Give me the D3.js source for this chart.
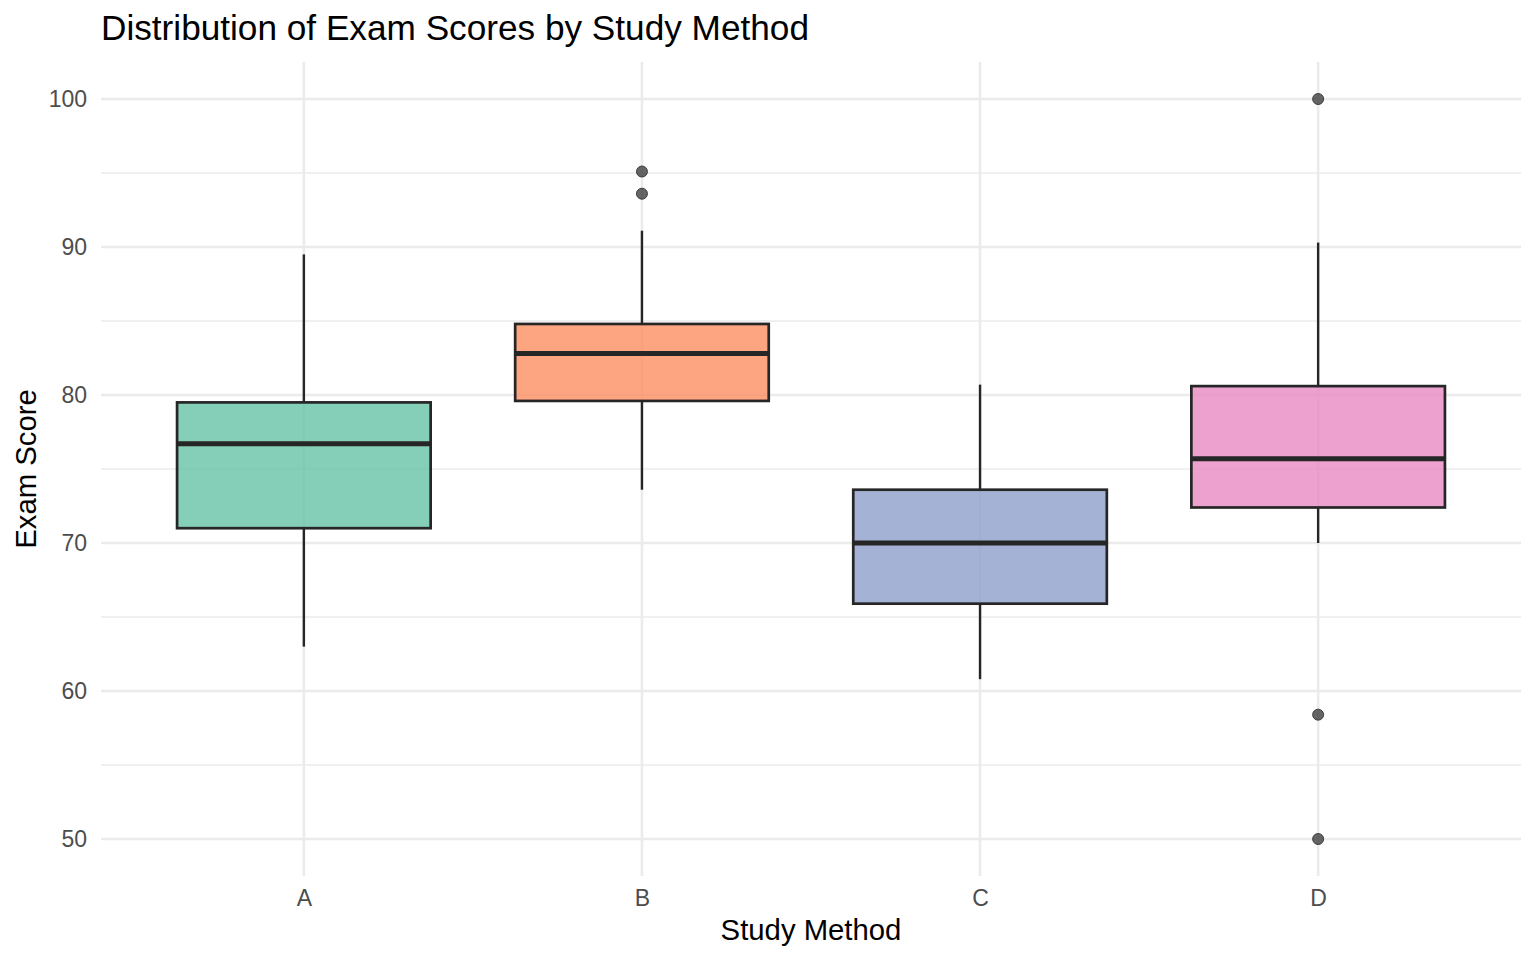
<!DOCTYPE html>
<html>
<head>
<meta charset="utf-8">
<script src="https://cdn.jsdelivr.net/npm/d3@7"></script>
<style>
  body { margin: 0; background: #fff; }
  text { font-family: "Liberation Sans", Arial, Helvetica, sans-serif; }
</style>
</head>
<body>
<script>
// values
var methods  = ["A", "B", "C", "D"];
var lowWhisk = [63.0, 73.6, 60.8, 70.0];
var q1       = [71.0, 79.6, 65.9, 72.4];
var medians  = [76.7, 82.8, 70.0, 75.7];
var q3       = [79.5, 84.8, 73.6, 80.6];
var highWhisk= [89.5, 91.1, 80.7, 90.3];
var outliers = [[], [95.1, 93.6], [], [100, 58.4, 50]];
var colors   = ["#66c2a5", "#fc8d62", "#8da0cb", "#e78ac3"];
var yMajor   = [50, 60, 70, 80, 90, 100];
var yMinor   = [55, 65, 75, 85, 95];

var w = 1536, h = 960;
var pLeft = 101, pRight = 1521, pTop = 62, pBottom = 876;

var svg = d3.select("body").append("svg")
            .attr("width", w)
            .attr("height", h);

var x = d3.scalePoint()
          .domain(methods)
          .range([pLeft, pRight])
          .padding(0.6);

var y = d3.scaleLinear()
          .domain([47.5, 102.5])
          .range([pBottom, pTop]);

var boxW = x.step() * 0.75;

// grid
svg.selectAll(".minor").data(yMinor).enter().append("line")
   .attr("x1", pLeft).attr("x2", pRight)
   .attr("y1", function(d){ return y(d); })
   .attr("y2", function(d){ return y(d); })
   .attr("stroke", "#ebebeb").attr("stroke-width", 1.4);

svg.selectAll(".major").data(yMajor).enter().append("line")
   .attr("x1", pLeft).attr("x2", pRight)
   .attr("y1", function(d){ return y(d); })
   .attr("y2", function(d){ return y(d); })
   .attr("stroke", "#ebebeb").attr("stroke-width", 2.6);

svg.selectAll(".vgrid").data(methods).enter().append("line")
   .attr("x1", function(d){ return x(d); })
   .attr("x2", function(d){ return x(d); })
   .attr("y1", pTop).attr("y2", pBottom)
   .attr("stroke", "#ebebeb").attr("stroke-width", 2.6);

// axes (labels only, no lines)
var yAxis = svg.append("g")
   .attr("transform", "translate(" + (pLeft - 14) + ",0)")
   .call(d3.axisLeft(y).tickValues(yMajor).tickSize(0).tickPadding(0));
yAxis.select(".domain").remove();
yAxis.selectAll("text")
   .attr("fill", "#4d4d4d")
   .style("font-size", "23px")
   .style("font-family", "'Liberation Sans', Arial, sans-serif");

var xAxis = svg.append("g")
   .attr("transform", "translate(0," + (pBottom + 13) + ")")
   .call(d3.axisBottom(x).tickSize(0).tickPadding(0));
xAxis.select(".domain").remove();
xAxis.selectAll("text")
   .attr("fill", "#4d4d4d")
   .attr("dy", "0.75em")
   .style("font-size", "23px")
   .style("font-family", "'Liberation Sans', Arial, sans-serif");

// boxes
var groups = svg.selectAll(".box").data(methods).enter().append("g");

groups.append("line")
   .attr("x1", function(d){ return x(d); })
   .attr("x2", function(d){ return x(d); })
   .attr("y1", function(d, i){ return y(highWhisk[i]); })
   .attr("y2", function(d, i){ return y(q3[i]); })
   .attr("stroke", "#262626").attr("stroke-width", 2.4);

groups.append("line")
   .attr("x1", function(d){ return x(d); })
   .attr("x2", function(d){ return x(d); })
   .attr("y1", function(d, i){ return y(q1[i]); })
   .attr("y2", function(d, i){ return y(lowWhisk[i]); })
   .attr("stroke", "#262626").attr("stroke-width", 2.4);

groups.append("rect")
   .attr("x", function(d){ return x(d) - boxW / 2; })
   .attr("width", boxW)
   .attr("y", function(d, i){ return y(q3[i]); })
   .attr("height", function(d, i){ return y(q1[i]) - y(q3[i]); })
   .attr("fill", function(d, i){ return colors[i]; })
   .attr("fill-opacity", 0.8)
   .attr("stroke", "#262626")
   .attr("stroke-width", 2.7);

groups.append("line")
   .attr("x1", function(d){ return x(d) - boxW / 2; })
   .attr("x2", function(d){ return x(d) + boxW / 2; })
   .attr("y1", function(d, i){ return y(medians[i]); })
   .attr("y2", function(d, i){ return y(medians[i]); })
   .attr("stroke", "#262626").attr("stroke-width", 5);

groups.each(function(d, i){
   d3.select(this).selectAll("circle").data(outliers[i]).enter().append("circle")
     .attr("cx", x(d))
     .attr("cy", function(v){ return y(v); })
     .attr("r", 5.5)
     .attr("fill", "#333333")
     .attr("fill-opacity", 0.75)
     .attr("stroke", "#333333")
     .attr("stroke-opacity", 0.9)
     .attr("stroke-width", 1);
});

// titles
svg.append("text")
   .attr("x", pLeft).attr("y", 40)
   .style("font-size", "35.2px")
   .attr("fill", "#000")
   .text("Distribution of Exam Scores by Study Method");

svg.append("text")
   .attr("x", (pLeft + pRight) / 2).attr("y", 940)
   .attr("text-anchor", "middle")
   .style("font-size", "29.3px")
   .attr("fill", "#000")
   .text("Study Method");

svg.append("text")
   .attr("transform", "translate(36," + ((pTop + pBottom) / 2) + ") rotate(-90)")
   .attr("text-anchor", "middle")
   .style("font-size", "29.3px")
   .attr("fill", "#000")
   .text("Exam Score");
</script>
</body>
</html>
